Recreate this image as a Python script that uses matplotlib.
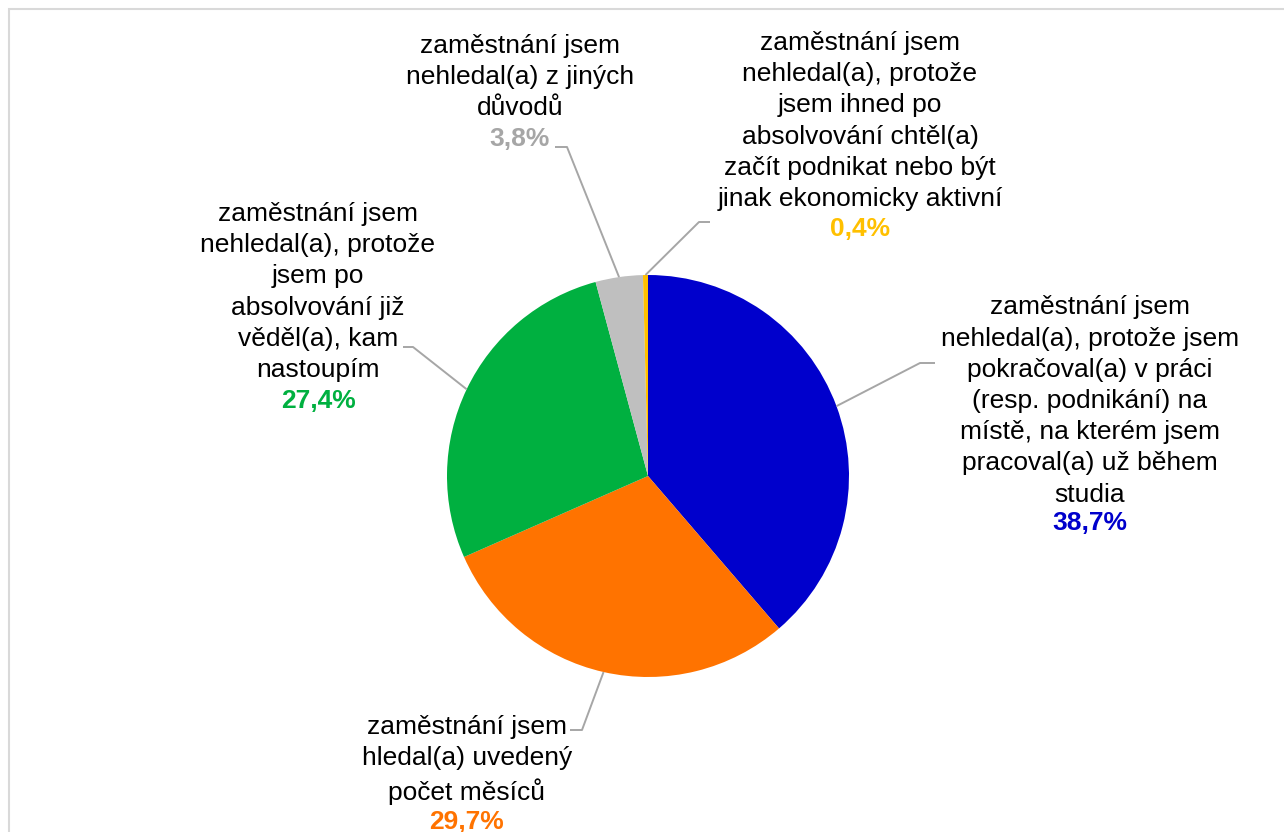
import numpy as np
import matplotlib
matplotlib.use("Agg")
import matplotlib.pyplot as plt
from matplotlib.patches import Rectangle

plt.rcParams['font.family'] = ['Liberation Sans', 'DejaVu Sans']

labels = [
    "zaměstnání jsem\nnehledal(a), protože jsem\npokračoval(a) v práci\n(resp. podnikání) na\nmístě, na kterém jsem\npracoval(a) už během\nstudia",
    "zaměstnání jsem\nhledal(a) uvedený\npočet měsíců",
    "zaměstnání jsem\nnehledal(a), protože\njsem po\nabsolvování již\nvěděl(a), kam\nnastoupím",
    "zaměstnání jsem\nnehledal(a) z jiných\ndůvodů",
    "zaměstnání jsem\nnehledal(a), protože\njsem ihned po\nabsolvování chtěl(a)\nzačít podnikat nebo být\njinak ekonomicky aktivní",
]
values = [38.7, 29.7, 27.4, 3.8, 0.4]
pct_labels = ["38,7%", "29,7%", "27,4%", "3,8%", "0,4%"]
colors = ["#0000CC", "#FF7300", "#00B040", "#BFBFBF", "#FFC000"]
pct_colors = ["#0000CC", "#FF7300", "#00B040", "#A6A6A6", "#FFC000"]

W, H = 1284, 832
fig = plt.figure(figsize=(W / 100, H / 100), dpi=100)
ax = fig.add_axes([0, 0, 1, 1])

cx, cy, r = 648, H - 476, 201
wedges, _ = ax.pie(values, colors=colors, startangle=90, counterclock=False,
                   center=(cx, cy), radius=r, frame=True,
                   wedgeprops=dict(linewidth=0))
ax.set_xlim(0, W)
ax.set_ylim(0, H)
ax.set_aspect('equal')
ax.axis('off')

# border of chart area
ax.add_patch(Rectangle((8.5, -200), W + 200, H - 8.5 + 200,
                       fill=False, edgecolor="#D9D9D9", linewidth=1.5))

# label layout (pixel positions, top-down y)
name_pos = [(1090, 401), (467, 760), (318, 292), (520, 77), (860, 121)]
pct_pos = [(1090, 523), (467, 822), (318, 401), (520, 139), (860, 229)]
elbow = [(920, 363), (582, 730), (413, 347), (567, 147), (699, 222)]
line_end = [(935, 363), (570, 730), (403, 347), (555, 147), (710, 222)]

fs = 19
for i, w in enumerate(wedges):
    ang = np.deg2rad((w.theta1 + w.theta2) / 2)
    sx, sy = cx + r * np.cos(ang), cy + r * np.sin(ang)
    ex, ey = elbow[i]
    lx, ly = line_end[i]
    ax.plot([sx, ex, lx], [sy, H - ey, H - ly], color="#A6A6A6", lw=1.4,
            solid_capstyle='butt', zorder=1)
    nx, ny = name_pos[i]
    ax.text(nx, H - ny, labels[i], ha='center', va='center', fontsize=fs,
            color="#000000", linespacing=1.38)
    px, py = pct_pos[i]
    ax.text(px, H - py, pct_labels[i], ha='center', va='center', fontsize=fs,
            color=pct_colors[i], fontweight='bold')

fig.savefig("out.png", dpi=100, facecolor="white")
